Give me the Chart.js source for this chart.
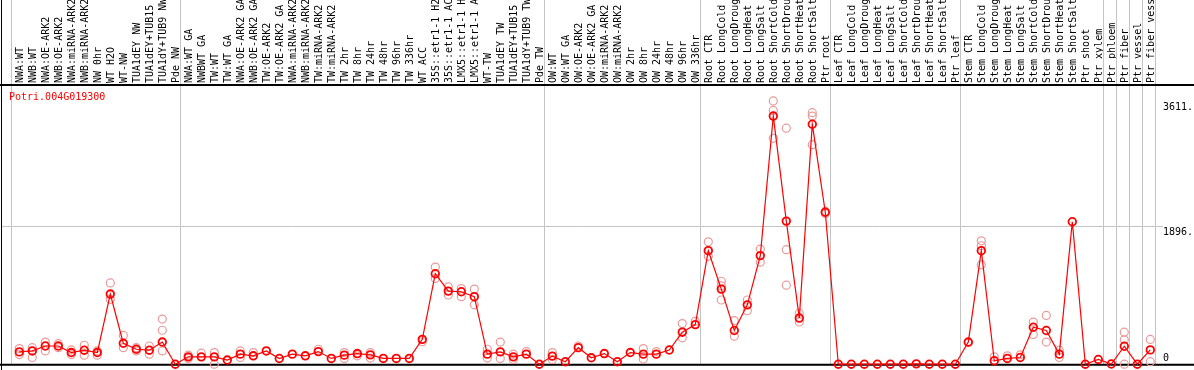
<!DOCTYPE html>
<html>
<head>
<meta charset="utf-8">
<script src="https://cdn.jsdelivr.net/npm/chart.js@4.4.1/dist/chart.umd.min.js"></script>
<style>
  html, body { margin: 0; padding: 0; background: #fff; }
  #c { display: block; }
</style>
</head>
<body>
<canvas id="c" width="1194" height="370"></canvas>
<script>
/* ─── DATA ────────────────────────────────────────────────── */
const geneId = 'Potri.004G019300';

const samples = [
  'NWA:WT', 'NWB:WT', 'NWA:OE-ARK2', 'NWB:OE-ARK2', 'NWA:miRNA-ARK2', 'NWB:miRNA-ARK2',
  'NW 0hr', 'WT H2O', 'WT-NW', 'TUA1dEY NW', 'TUA1dEY+TUB15', 'TUA1dY+TUB9 NW', 'Pde NW',
  'NWA:WT GA', 'NWBWT GA', 'TW:WT', 'TW:WT GA', 'NWA:OE-ARK2 GA', 'NWB:OE-ARK2 GA',
  'TW:OE-ARK2', 'TW:OE-ARK2 GA', 'NWA:miRNA-ARK2', 'NWB:miRNA-ARK2', 'TW:miRNA-ARK2',
  'TW:miRNA-ARK2', 'TW 2hr', 'TW 8hr', 'TW 24hr', 'TW 48hr', 'TW 96hr', 'TW 336hr',
  'WT ACC', '35S::etr1-1 H2', '35S::etr1-1 AC', 'LMX5::etr1-1 H', 'LMX5::etr1-1 A',
  'WT-TW', 'TUA1dEY TW', 'TUA1dEY+TUB15', 'TUA1dY+TUB9 TW', 'Pde TW',
  'OW:WT', 'OW:WT GA', 'OW:OE-ARK2', 'OW:OE-ARK2 GA', 'OW:miRNA-ARK2', 'OW:miRNA-ARK2',
  'OW 2hr', 'OW 8hr', 'OW 24hr', 'OW 48hr', 'OW 96hr', 'OW 336hr',
  'Root CTR', 'Root LongCold', 'Root LongDroug', 'Root LongHeat', 'Root LongSalt',
  'Root ShortCold', 'Root ShortDrou', 'Root ShortHeat', 'Root ShortSalt', 'Ptr root',
  'Leaf CTR', 'Leaf LongCold', 'Leaf LongDroug', 'Leaf LongHeat', 'Leaf LongSalt',
  'Leaf ShortCold', 'Leaf ShortDrou', 'Leaf ShortHeat', 'Leaf ShortSalt', 'Ptr leaf',
  'Stem CTR', 'Stem LongCold', 'Stem LongDroug', 'Stem LongHeat', 'Stem LongSalt',
  'Stem ShortCold', 'Stem ShortDrou', 'Stem ShortHeat', 'Stem ShortSalt', 'Ptr shoot',
  'Ptr xylem', 'Ptr phloem', 'Ptr fiber', 'Ptr vessel', 'Ptr fiber vess',
];

// mean expression per sample
const meanValues = [
  169, 182, 250, 250, 160, 192, 160, 962, 287, 205, 192, 304, 0,
  101, 101, 101, 57, 138, 115, 182, 78, 138, 115, 173, 79, 124, 146, 128, 79, 79, 79,
  341, 1241, 1003, 994, 926, 138, 169, 101, 138, 0,
  111, 34, 227, 88, 146, 34, 160, 138, 138, 195, 439, 543,
  1557, 1030, 462, 814, 1490, 3404, 1963, 633, 3292, 2085,
  0, 0, 0, 0, 0, 0, 5, 0, 0, 0,
  304, 1557, 47, 79, 92, 507, 462, 138, 1954, 0,
  65, 3, 246, 0, 196,
];

// individual replicates (null = hidden behind the mean marker)
const rep1 = [
  214, 227, 304, 281, 196, 260, 182, 1115, 395, 227, 250, 619, null,
  124, 151, 160, null, 182, 160, null, null, null, null, 205, null, 160, 115, 160, null, null, null,
  308, 1332, 1061, 1038, 1030, 205, 304, 138, 173, null,
  160, null, 250, null, null, null, null, 214, 173, null, 557, 588,
  1679, 1138, 598, 881, 1579, 3611, 3238, 700, 3450, 2098,
  null, null, null, null, null, null, null, null, null, null,
  295, 1693, 101, 115, 128, 578, 669, 192, null, null,
  null, null, 439, null, 340,
];
const rep2 = [
  132, 92, 182, 227, 132, 124, 124, 890, 227, 182, 138, 466, null,
  79, null, 0, null, 92, null, null, null, null, null, null, null, 79, null, 84, null, null, null,
  null, 1174, 949, 926, 814, 84, 79, 65, null, null,
  65, null, null, null, null, null, null, 70, null, null, 362, null,
  1480, 1075, 385, 733, 1399, 3481, 1571, 579, 3404, 2066,
  null, null, null, null, null, null, null, null, null, null,
  null, 1625, null, null, null, 408, 304, 92, null, null,
  null, null, 335, null, 34,
];
const rep3 = [
  null, null, null, null, null, null, null, null, null, null, null, 182, null,
  null, null, null, null, null, null, null, null, null, null, null, null, null, null, null, null, null, null,
  null, null, null, null, null, null, null, null, null, null,
  null, null, null, null, null, null, null, null, null, null, null, null,
  null, 881, null, null, null, 3099, 1084, null, 3012, null,
  null, null, null, null, null, null, null, null, null, null,
  null, 1363, null, null, null, null, null, null, null, null,
  null, null, 0, null, null,
];

// sample index where each block of samples starts (last = end)
const groupStarts = [0, 13, 41, 53, 63, 73, 84, 85, 86, 87, 88];

const yMax        = 3830;
const yTicks      = [3611, 1896, 0];
const yTickLabels = ['3611.', '1896.', '0'];

/* ─── STYLE ───────────────────────────────────────────────── */
const MONO   = 'DejaVu Sans Mono';
const RED    = '#ff0000';
const PINK   = '#eb9a9a';
const GRIDC  = '#c4c4c4';

/* ─── FRAME / GRID / LABELS PLUGIN ────────────────────────── */
const efpFrame = {
  id: 'efpFrame',
  beforeDatasetsDraw(chart) {
    const { ctx, chartArea: a, scales: { x, y } } = chart;
    const step = x.width / samples.length;
    ctx.save();
    ctx.lineWidth = 1;
    ctx.strokeStyle = GRIDC;
    // block separators, run up through the label strip
    groupStarts.forEach(k => {
      const px = Math.round(x.left + k * step - 1.5) + 0.5;
      ctx.beginPath();
      ctx.moveTo(px, 0);
      ctx.lineTo(px, a.bottom);
      ctx.stroke();
    });
    // horizontal reference line
    const gy = Math.round(y.getPixelForValue(yTicks[1])) + 0.5;
    ctx.beginPath();
    ctx.moveTo(2, gy);
    ctx.lineTo(1163, gy);
    ctx.stroke();
    // black frame
    ctx.strokeStyle = '#000';
    ctx.beginPath();
    ctx.moveTo(1.5, 0);
    ctx.lineTo(1.5, chart.height);
    ctx.stroke();
    ctx.lineWidth = 2;
    ctx.beginPath();
    ctx.moveTo(0, a.top);
    ctx.lineTo(chart.width, a.top);
    ctx.moveTo(0, a.bottom + 0.5);
    ctx.lineTo(chart.width, a.bottom + 0.5);
    ctx.stroke();
    ctx.restore();
  },
  afterDraw(chart) {
    const { ctx, chartArea: a, scales: { y } } = chart;
    ctx.save();
    ctx.font = `10px "${MONO}"`;
    ctx.textAlign = 'left';
    // gene id
    ctx.fillStyle = RED;
    ctx.textBaseline = 'middle';
    ctx.fillText(geneId, 9, a.top + 12);
    // value labels on the right
    ctx.fillStyle = '#000';
    yTicks.forEach((v, i) => {
      const py = y.getPixelForValue(v);
      if (v === 0) {
        ctx.textBaseline = 'bottom';
        ctx.fillText(yTickLabels[i], 1163, py - 1);
      } else {
        ctx.textBaseline = 'top';
        ctx.fillText(yTickLabels[i], 1163, py + 1);
      }
    });
    ctx.restore();
  },
};

/* ─── CHART ───────────────────────────────────────────────── */
const repStyle = {
  type: 'line',
  showLine: false,
  pointStyle: 'circle',
  pointRadius: 4,
  pointBorderWidth: 1.2,
  pointBorderColor: PINK,
  pointBackgroundColor: 'rgba(0,0,0,0)',
  clip: false,
};

new Chart(document.getElementById('c'), {
  type: 'line',
  data: {
    labels: samples,
    datasets: [
      {
        data: meanValues,
        borderColor: RED,
        borderWidth: 1.2,
        pointRadius: 3.8,
        pointBorderWidth: 1.8,
        pointBorderColor: RED,
        pointBackgroundColor: 'rgba(0,0,0,0)',
        tension: 0,
        clip: false,
      },
      { ...repStyle, data: rep1 },
      { ...repStyle, data: rep2 },
      { ...repStyle, data: rep3 },
    ],
  },
  options: {
    responsive: false,
    animation: false,
    events: [],
    layout: { padding: { left: 12.8, right: 37.2, top: 0, bottom: 1.5 } },
    plugins: { legend: { display: false }, tooltip: { enabled: false } },
    scales: {
      x: {
        position: 'top',
        offset: true,
        grid: { display: false, drawTicks: false },
        border: { display: false },
        ticks: {
          autoSkip: false,
          minRotation: 90,
          maxRotation: 90,
          padding: 2,
          labelOffset: 13,
          color: '#000',
          font: { family: MONO, size: 10 },
        },
        afterFit: s => { s.height = 85; },
      },
      y: { display: false, min: 0, max: yMax },
    },
  },
  plugins: [efpFrame],
});
</script>
</body>
</html>
